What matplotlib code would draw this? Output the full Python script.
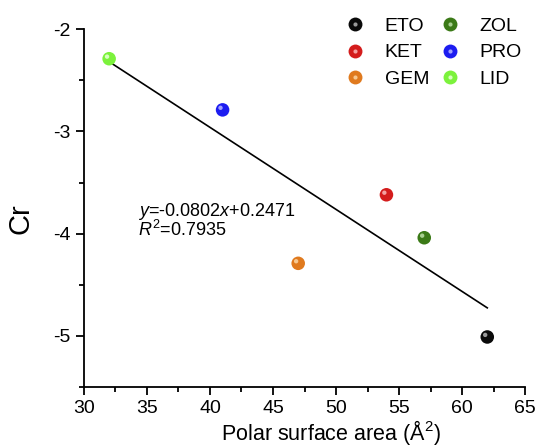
"""Cr vs polar surface area scatter with linear fit"""
import matplotlib
matplotlib.use('Agg')
import matplotlib.pyplot as plt
from matplotlib.lines import Line2D
from matplotlib.legend_handler import HandlerTuple
from matplotlib.transforms import ScaledTranslation

plt.rcParams['font.family'] = ['Liberation Sans', 'DejaVu Sans']
plt.rcParams['mathtext.fontset'] = 'custom'
plt.rcParams['mathtext.rm'] = 'Liberation Sans'
plt.rcParams['mathtext.it'] = 'Liberation Sans:italic'

# data
drugs = ['ETO', 'KET', 'GEM', 'ZOL', 'PRO', 'LID']
psa = [62, 54, 47, 57, 41, 32]
cr = [-5.01, -3.62, -4.29, -4.04, -2.79, -2.29]
colors = ['#0a0a0a', '#d41c1c', '#e07a1e', '#3b7a17', '#1c1cf0', '#7cf23c']
highlights = ['#9a9a9a', '#f4a0a0', '#f7c890', '#a8d090', '#a0a0ff', '#d8ffc0']

slope, intercept = -0.0802, 0.2471
fit_x = [32, 62]

fig = plt.figure(figsize=(5.38, 4.47), dpi=100)
ax = fig.add_axes([0.156, 0.134, 0.820, 0.801])

# regression line
fit_y = [slope * x + intercept for x in fit_x]
ax.plot(fit_x, fit_y, color='black', lw=1.2, zorder=2)

# shiny ball markers: base + offset highlight
shift = ScaledTranslation(-1.5 / 72, 1.5 / 72, fig.dpi_scale_trans)
handles = []
for name, x, y, c, h in zip(drugs, psa, cr, colors, highlights):
    ax.scatter([x], [y], s=95, color=c, edgecolors='none', zorder=3)
    ax.scatter([x], [y], s=10, color=h, edgecolors='none', zorder=4,
               transform=ax.transData + shift)
    base = Line2D([], [], marker='o', ls='', markersize=10, color=c, markeredgewidth=0)
    hi = Line2D([], [], marker='o', ls='', markersize=3, color=h, markeredgewidth=0)
    handles.append((base, hi))

ax.text(34.3, -3.68, '$y$=-0.0802$x$+0.2471\n$R^2$=0.7935', fontsize=13,
        va='top', ha='left', linespacing=0.9)

ax.set_xlim(30, 65)
ax.set_ylim(-5.5, -2)
ax.set_xticks(range(30, 66, 5))
ax.set_xticks([32.5 + 5 * i for i in range(7)], minor=True)
ax.set_yticks([-5, -4, -3, -2])
ax.set_yticks([-5.5, -4.5, -3.5, -2.5], minor=True)
ax.set_yticklabels(['-5', '-4', '-3', '-2'])

for side in ['top', 'right']:
    ax.spines[side].set_visible(False)
for side in ['left', 'bottom']:
    ax.spines[side].set_linewidth(1.3)
ax.tick_params(which='major', direction='out', length=6, width=1.3, labelsize=14)
ax.tick_params(which='minor', direction='out', length=3.5, width=1.3)

ax.set_xlabel('Polar surface area (Å$^2$)', fontsize=15.5)
ax.xaxis.set_label_coords(0.56, -0.085)
ax.set_ylabel('Cr', fontsize=21)
ax.yaxis.set_label_coords(-0.113, 0.47)

fig.legend(handles, drugs, ncol=2, loc='upper left', bbox_to_anchor=(0.61, 1.0),
           frameon=False, fontsize=14, handler_map={tuple: HandlerTuple(ndivide=1, pad=0)},
           handlelength=1.0, handletextpad=1.0, columnspacing=0.6, labelspacing=0.45)

fig.savefig('out.png', dpi=100)
